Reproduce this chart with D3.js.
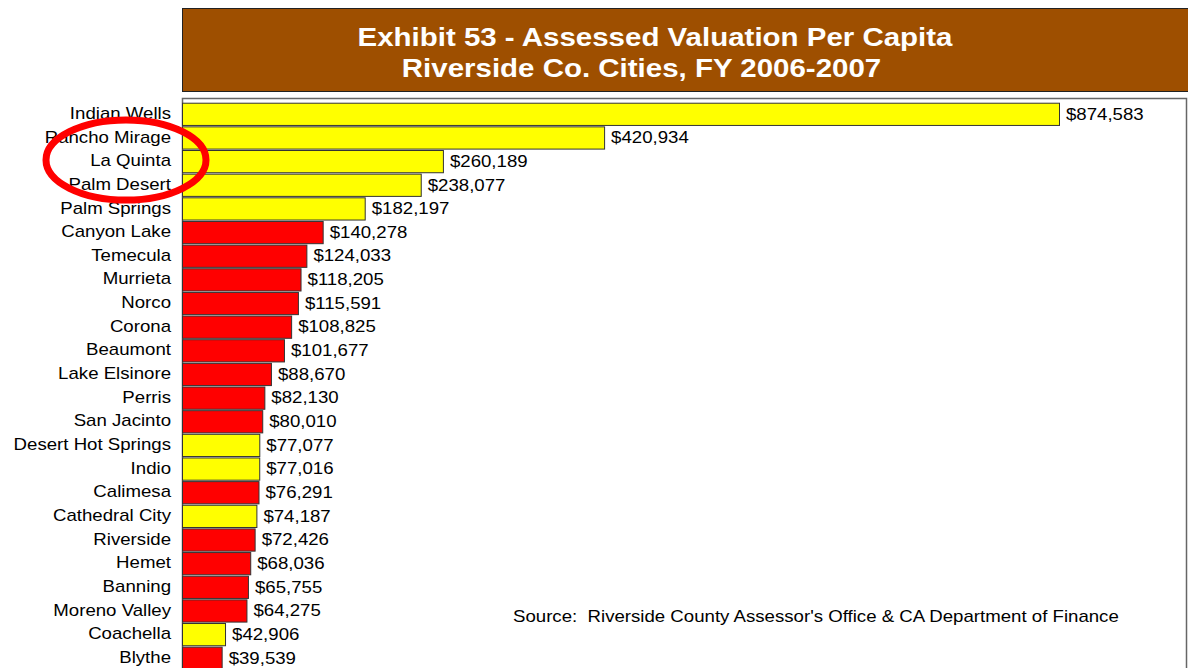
<!DOCTYPE html>
<html><head><meta charset="utf-8">
<script src="https://cdn.jsdelivr.net/npm/d3@7"></script>
<style>html,body{margin:0;padding:0;background:#fff;overflow:hidden}</style>
</head><body>
<svg id="c" width="1188" height="668"></svg>
<script>
const cities = ["Indian Wells","Rancho Mirage","La Quinta","Palm Desert","Palm Springs","Canyon Lake","Temecula","Murrieta","Norco","Corona","Beaumont","Lake Elsinore","Perris","San Jacinto","Desert Hot Springs","Indio","Calimesa","Cathedral City","Riverside","Hemet","Banning","Moreno Valley","Coachella","Blythe"];
const values = [874583,420934,260189,238077,182197,140278,124033,118205,115591,108825,101677,88670,82130,80010,77077,77016,76291,74187,72426,68036,65755,64275,42906,39539];
const groups = ["Y","Y","Y","Y","Y","R","R","R","R","R","R","R","R","R","Y","Y","R","Y","R","R","R","R","Y","R"];
const titleLines = ["Exhibit 53 - Assessed Valuation Per Capita","Riverside Co. Cities, FY 2006-2007"];
const sourceText = "Source:  Riverside County Assessor's Office & CA Department of Finance";

const svg = d3.select("#c");
const font = "'Liberation Sans', Arial, sans-serif";
const colour = d3.scaleOrdinal().domain(["Y","R"]).range(["#FFFF00","#FF0000"]);
const SX = 1.165, TSX = 1.134;

// title box
svg.append("rect").attr("x",182.5).attr("y",8.5).attr("width",1010).attr("height",83)
  .attr("fill","#9E4F00").attr("stroke","#222").attr("stroke-width",1);
[[655,46],[641.5,77]].forEach((p,i)=>{
  svg.append("text").attr("transform",`translate(${p[0]},${p[1]}) scale(${TSX},1)`).attr("text-anchor","middle")
    .attr("font-family",font).attr("font-weight","bold").attr("font-size",26).attr("fill","#fff").text(titleLines[i]);
});

// plot frame
svg.append("rect").attr("x",182.5).attr("y",98.5).attr("width",1004).attr("height",600)
  .attr("fill","#fff").attr("stroke","#666").attr("stroke-width",1.5);

const x = d3.scaleLinear().domain([0,874583]).range([182,1059]);
const y = d3.scaleBand().domain(cities).range([102, 102 + 23.65*24]).paddingInner(0.06).paddingOuter(0.03);

const data = cities.map((c,i)=>({c, v:values[i], g:groups[i]}));

svg.selectAll("rect.bar").data(data).join("rect").attr("class","bar")
  .attr("x",x(0)+0.5).attr("y",d=>y(d.c)+0.5)
  .attr("width",d=>x(d.v)-x(0)).attr("height",y.bandwidth())
  .attr("fill",d=>colour(d.g)).attr("stroke","#333").attr("stroke-width",1);

svg.selectAll("text.val").data(data).join("text").attr("class","val")
  .attr("transform",d=>`translate(${x(d.v)+7},${y(d.c)+y.bandwidth()/2}) scale(${SX},1)`).attr("dy","0.36em")
  .attr("font-family",font).attr("font-size",16).attr("fill","#000")
  .text(d=>"$"+d3.format(",")(d.v));

const yAxis = d3.axisLeft(y).tickSize(0).tickPadding(11);
const ag = svg.append("g").attr("transform","translate(182,0)").call(yAxis);
ag.select(".domain").remove();
ag.selectAll("text").attr("x",0).attr("transform",`translate(-11,0) scale(${SX},1)`)
  .attr("font-family",font).attr("font-size",16).attr("fill","#000");

svg.append("text").attr("transform",`translate(513,622) scale(${SX},1)`).attr("font-family",font).attr("font-size",16)
  .attr("fill","#000").attr("xml:space","preserve").style("white-space","pre").text(sourceText);

// red highlight ellipse
svg.append("ellipse").attr("cx",126).attr("cy",160).attr("rx",80).attr("ry",40)
  .attr("fill","none").attr("stroke","#FF0000").attr("stroke-width",7);
</script>
</body></html>
